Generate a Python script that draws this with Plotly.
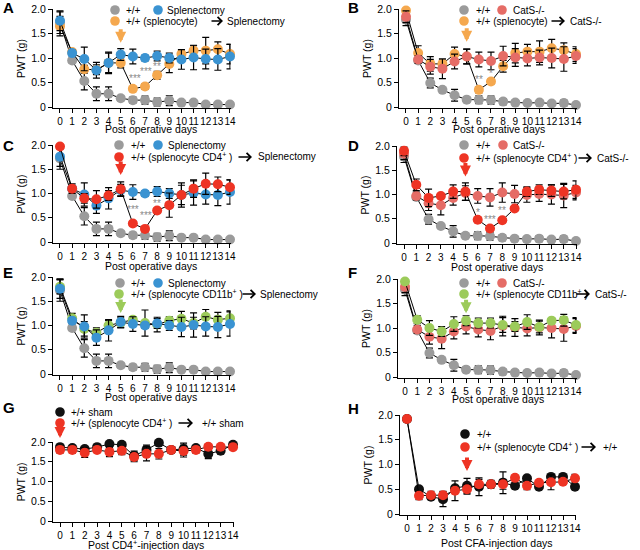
import plotly.graph_objects as go

W, H = 640, 550
days = list(range(15))

# ---------------- data ----------------
# +/+ control for splenectomy panels (A, C, E)
wt_a = [1.72, 0.95, 0.53, 0.27, 0.27, 0.18, 0.14, 0.14, 0.10, 0.13, 0.09, 0.09, 0.05, 0.05, 0.05]
wt_a_err = [0.22, 0.05, 0.18, 0.14, 0.14, 0.05, 0.06, 0.08, 0.08, 0.10, 0.05, 0.05, 0.03, 0.03, 0.03]
splenectomy = [1.76, 1.10, 0.98, 0.75, 0.90, 1.07, 1.03, 1.00, 1.04, 1.00, 0.97, 1.01, 0.98, 0.97, 1.03]
splenectomy_err = [0.20, 0.06, 0.24, 0.16, 0.22, 0.12, 0.15, 0.06, 0.10, 0.10, 0.20, 0.25, 0.20, 0.22, 0.25]
a_spleno = [1.65, 1.12, 0.77, 0.76, 0.90, 0.90, 0.37, 0.42, 0.65, 0.88, 1.08, 1.15, 1.15, 1.18, 1.08]
a_spleno_err = [0.20, 0.05, 0.08, 0.10, 0.20, 0.10, 0.03, 0.06, 0.08, 0.18, 0.08, 0.10, 0.27, 0.15, 0.20]

# +/+ control for CatS-/- panels (B, D, F)
wt_b = [1.78, 0.95, 0.49, 0.35, 0.24, 0.15, 0.15, 0.14, 0.11, 0.09, 0.08, 0.09, 0.07, 0.08, 0.04]
wt_b_err = [0.12, 0.05, 0.10, 0.03, 0.12, 0.05, 0.08, 0.08, 0.06, 0.05, 0.05, 0.06, 0.03, 0.06, 0.02]
cats = [1.84, 0.97, 0.82, 0.78, 0.93, 1.03, 0.97, 0.94, 1.04, 1.01, 0.99, 1.01, 1.00, 0.98, 1.04]
cats_err = [0.12, 0.08, 0.15, 0.20, 0.15, 0.15, 0.15, 0.18, 0.20, 0.18, 0.15, 0.15, 0.20, 0.25, 0.15]
b_spleno = [1.97, 1.10, 0.88, 0.88, 1.08, 1.03, 0.35, 0.52, 0.83, 1.10, 1.13, 1.13, 1.20, 1.16, 1.08]
b_spleno_err = [0.05, 0.15, 0.15, 0.10, 0.14, 0.15, 0.06, 0.05, 0.12, 0.20, 0.15, 0.22, 0.18, 0.15, 0.15]

c_cd4 = [1.97, 1.10, 0.90, 0.88, 0.96, 1.09, 0.38, 0.27, 0.65, 0.76, 0.97, 1.10, 1.20, 1.19, 1.13]
c_cd4_err = [0.05, 0.10, 0.10, 0.18, 0.10, 0.15, 0.05, 0.05, 0.05, 0.25, 0.25, 0.18, 0.22, 0.15, 0.15]
d_cd4 = [1.90, 1.20, 0.93, 0.97, 1.06, 1.06, 0.48, 0.30, 0.47, 0.71, 1.06, 1.10, 1.08, 1.06, 1.10]
d_cd4_err = [0.10, 0.12, 0.18, 0.05, 0.14, 0.18, 0.05, 0.05, 0.05, 0.05, 0.10, 0.10, 0.12, 0.15, 0.18]

e_cd11b = [1.80, 1.15, 0.93, 0.85, 1.00, 1.06, 1.12, 1.05, 1.02, 1.10, 1.14, 1.05, 1.18, 1.12, 1.15]
e_cd11b_err = [0.15, 0.10, 0.15, 0.10, 0.10, 0.10, 0.05, 0.27, 0.15, 0.08, 0.15, 0.12, 0.15, 0.15, 0.15]
f_cd11b = [1.95, 1.17, 1.00, 0.93, 1.08, 1.15, 1.10, 1.10, 1.06, 1.03, 1.12, 1.02, 1.15, 1.16, 1.06]
f_cd11b_err = [0.05, 0.08, 0.15, 0.10, 0.15, 0.10, 0.10, 0.10, 0.15, 0.10, 0.15, 0.12, 0.05, 0.12, 0.15]

g_sham = [1.87, 1.85, 1.82, 1.87, 1.95, 1.93, 1.65, 1.80, 1.98, 1.80, 1.82, 1.85, 1.70, 1.78, 1.93]
g_sham_err = [0.05, 0.03, 0.03, 0.03, 0.03, 0.03, 0.12, 0.12, 0.03, 0.05, 0.15, 0.05, 0.12, 0.08, 0.03]
g_cd4 = [1.80, 1.80, 1.73, 1.80, 1.75, 1.78, 1.62, 1.70, 1.70, 1.80, 1.77, 1.80, 1.88, 1.88, 1.87]
g_cd4_err = [0.08, 0.08, 0.12, 0.05, 0.12, 0.10, 0.12, 0.18, 0.13, 0.08, 0.15, 0.08, 0.06, 0.05, 0.05]

h_wt = [1.92, 0.50, 0.35, 0.30, 0.52, 0.57, 0.55, 0.60, 0.63, 0.57, 0.72, 0.55, 0.75, 0.75, 0.55]
h_wt_err = [0.05, 0.05, 0.05, 0.15, 0.05, 0.15, 0.18, 0.08, 0.22, 0.05, 0.03, 0.03, 0.05, 0.05, 0.05]
h_cd4 = [1.92, 0.37, 0.38, 0.38, 0.47, 0.50, 0.60, 0.60, 0.60, 0.73, 0.57, 0.63, 0.64, 0.65, 0.72]
h_cd4_err = [0.05, 0.08, 0.08, 0.08, 0.20, 0.10, 0.10, 0.05, 0.10, 0.05, 0.08, 0.03, 0.15, 0.05, 0.08]

y_tickvals = [0, 0.5, 1.0, 1.5, 2.0]
y_ticktext = ["0", "0.5", "1.0", "1.5", "2.0"]

# ---------------- styles ----------------
GRAY = "#9b9b9b"
BLUE = "#3a93d2"
ORANGE = "#f5a84e"
SALMON = "#e56c66"
RED = "#ee3424"
GREEN = "#9ccb5a"
BLACK = "#111111"
FONT = "Liberation Sans, Arial, sans-serif"
LEG_SIZE = 10
TICK_SIZE = 10

XR = (-0.58, 14.05)
YR = (-0.02, 2.0)

fig = go.Figure()
layout = dict(width=W, height=H, margin=dict(l=0, r=0, t=0, b=0, autoexpand=False),
              paper_bgcolor="white", plot_bgcolor="white", showlegend=False,
              font=dict(family=FONT, size=10.5, color="black"))
annotations = []
shapes = []


def px_x(p):
    return p / W


def px_y(p):
    return 1 - p / H


def add_text(x, y, text, size=LEG_SIZE, anchor="left", color="black"):
    annotations.append(dict(xref="paper", yref="paper", x=px_x(x), y=px_y(y), text=text,
                            showarrow=False, xanchor=anchor, yanchor="middle",
                            font=dict(size=size, color=color, family=FONT)))


def add_dot(cx, cy, color, r=4.8):
    shapes.append(dict(type="circle", xref="paper", yref="paper",
                       x0=px_x(cx - r), x1=px_x(cx + r), y0=px_y(cy + r), y1=px_y(cy - r),
                       fillcolor=color, line=dict(width=0)))


def add_legend_arrow(x0, x1, y):
    annotations.append(dict(xref="paper", yref="paper", x=px_x(x1), y=px_y(y), ax=-(x1 - x0), ay=0,
                            text="", showarrow=True, arrowhead=4, arrowwidth=1.6, arrowsize=1,
                            arrowcolor="black"))


panels = [
    dict(letter="A", letter_xy=(1, 8), geo=(60, 230, 107, 9),
         series=[(wt_a, wt_a_err, GRAY), (a_spleno, a_spleno_err, ORANGE), (splenectomy, splenectomy_err, BLUE)],
         arrow=(5, 1.31, ORANGE), stars=[(6.2, 0.58, "***"), (7.1, 0.72, "***"), (8.0, 0.83, "**")],
         xtitle=("Post operative days", 151, 129),
         leg=[(10, [("dot", 115, GRAY), ("text", 124, "+/+"), ("dot", 158, BLUE), ("text", 165, "Splenectomy")]),
              (21, [("dot", 115, ORANGE), ("text", 124, "+/+ (splenocyte)"), ("arrow", 210, 223),
                    ("text", 225, "Splenectomy")])]),
    dict(letter="B", letter_xy=(346, 8), geo=(406, 576, 107, 9),
         series=[(wt_b, wt_b_err, GRAY), (b_spleno, b_spleno_err, ORANGE), (cats, cats_err, SALMON)],
         arrow=(5, 1.33, ORANGE), stars=[(6.0, 0.56, "**"), (7.0, 0.68, "*")],
         xtitle=("Post operative days", 499, 129),
         leg=[(10, [("dot", 464, GRAY), ("text", 474, "+/+"), ("dot", 502, SALMON), ("text", 511, "CatS-/-")]),
              (21, [("dot", 464, ORANGE), ("text", 474, "+/+ (splenocyte)"), ("arrow", 550, 565),
                    ("text", 568, "CatS-/-")])]),
    dict(letter="C", letter_xy=(1, 146), geo=(60, 230, 242, 145),
         series=[(wt_a, wt_a_err, GRAY), (splenectomy, splenectomy_err, BLUE), (c_cd4, c_cd4_err, RED)],
         arrow=(5, 1.38, RED), stars=[(6.0, 0.67, "***"), (7.1, 0.55, "***"), (8.0, 0.80, "**")],
         xtitle=("Post operative days", 151, 266),
         leg=[(145, [("dot", 119, GRAY), ("text", 129, "+/+"), ("dot", 158, BLUE), ("text", 166, "Splenectomy")]),
              (157, [("dot", 119, RED), ("text", 129, "+/+ (splenocyte CD4<sup>+</sup> )"), ("arrow", 237, 252),
                     ("text", 256, "Splenectomy")])]),
    dict(letter="D", letter_xy=(346, 146), geo=(404, 576, 243, 146),
         series=[(wt_b, wt_b_err, GRAY), (cats, cats_err, SALMON), (d_cd4, d_cd4_err, RED)],
         arrow=(5, 1.37, RED), stars=[(6.0, 0.63, "*"), (7.0, 0.48, "***"), (8.0, 0.66, "**")],
         xtitle=("Post operative days", 497, 267),
         leg=[(145, [("dot", 464, GRAY), ("text", 474, "+/+"), ("dot", 503, SALMON), ("text", 511, "CatS-/-")]),
              (158, [("dot", 464, RED), ("text", 474, "+/+ (splenocyte CD4<sup>+</sup> )"), ("arrow", 577, 592),
                     ("text", 595, "CatS-/-")])]),
    dict(letter="E", letter_xy=(1, 272), geo=(60, 230, 374, 277),
         series=[(wt_a, wt_a_err, GRAY), (e_cd11b, e_cd11b_err, GREEN), (splenectomy, splenectomy_err, BLUE)],
         arrow=(5, 1.26, GREEN), stars=[],
         xtitle=("Post operative days", 151, 397),
         leg=[(283, [("dot", 120, GRAY), ("text", 129, "+/+"), ("dot", 158, BLUE), ("text", 166, "Splenectomy")]),
              (294, [("dot", 119, GREEN), ("text", 129, "+/+ (splenocyte CD11b<sup>+</sup> )"), ("arrow", 241, 256),
                     ("text", 258, "Splenectomy")])]),
    dict(letter="F", letter_xy=(346, 272), geo=(405, 576, 377, 279),
         series=[(wt_b, wt_b_err, GRAY), (cats, cats_err, SALMON), (f_cd11b, f_cd11b_err, GREEN)],
         arrow=(5, 1.30, GREEN), stars=[],
         xtitle=("Post operative days", 498, 399),
         leg=[(283, [("dot", 464, GRAY), ("text", 474, "+/+"), ("dot", 502, SALMON), ("text", 511, "CatS-/-")]),
              (294, [("dot", 464, GREEN), ("text", 474, "+/+ (splenocyte CD11b<sup>+</sup> )"), ("arrow", 575, 590),
                     ("text", 593, "CatS-/-")])]),
    dict(letter="G", letter_xy=(1, 407), geo=(60, 233, 521, 442),
         series=[(g_sham, g_sham_err, BLACK), (g_cd4, g_cd4_err, RED)],
         arrow=None, paper_arrow=(60, 438, RED), stars=[],
         xtitle=("Post CD4<sup>+</sup>-injection days", 146, 544),
         leg=[(412, [("dot", 60, BLACK), ("text", 69, "+/+ sham")]),
              (423, [("dot", 60, RED), ("text", 69, "+/+ (splenocyte CD4<sup>+</sup> )"), ("arrow", 177, 193),
                     ("text", 200, "+/+ sham")])]),
    dict(letter="H", letter_xy=(346, 408), geo=(407, 575, 514, 415),
         series=[(h_wt, h_wt_err, BLACK), (h_cd4, h_cd4_err, RED)],
         arrow=(5, 0.87, RED), stars=[],
         xtitle=("Post CFA-injection days", 496, 543),
         leg=[(434, [("dot", 465, BLACK), ("text", 475, "+/+")]),
              (447, [("dot", 465, RED), ("text", 475, "+/+ (splenocyte CD4<sup>+</sup> )"), ("arrow", 580, 596),
                     ("text", 601, "+/+")])]),
]

DOWN = dict(text="", showarrow=True, arrowhead=2, arrowwidth=4, arrowsize=0.55, ax=0, ay=-15)

for i, p in enumerate(panels, start=1):
    s = "" if i == 1 else str(i)
    x0, x14, y0, y2 = p["geo"]
    ppd = (x14 - x0) / 14.0
    ppu = (y0 - y2) / 2.0
    left = x0 + XR[0] * ppd
    right = x0 + XR[1] * ppd
    bottom = y0 - YR[0] * ppu
    top = y0 - YR[1] * ppu
    xa = dict(domain=[px_x(left), px_x(right)], range=list(XR), anchor="y" + s, automargin=False,
              showgrid=False, zeroline=False, showline=True, linecolor="black", linewidth=1,
              ticks="outside", ticklen=4, tickwidth=1, tickcolor="black", tickangle=0,
              tickmode="array", tickvals=days, ticktext=[str(d) for d in days],
              tickfont=dict(size=TICK_SIZE, family=FONT))
    ya = dict(domain=[px_y(bottom), px_y(top)], range=list(YR), anchor="x" + s, automargin=False,
              showgrid=False, zeroline=False, showline=True, linecolor="black", linewidth=1,
              ticks="outside", ticklen=4, tickwidth=1, tickcolor="black",
              tickmode="array", tickvals=y_tickvals, ticktext=y_ticktext,
              tickfont=dict(size=10.5, family=FONT),
              title=dict(text="PWT (g)", font=dict(size=10.5, family=FONT), standoff=3))
    layout["xaxis" + s] = xa
    layout["yaxis" + s] = ya

    for vals, err, col in p["series"]:
        fig.add_trace(go.Scatter(
            x=days, y=vals, mode="lines+markers", xaxis="x" + s, yaxis="y" + s,
            line=dict(color="black", width=1),
            marker=dict(color=col, size=10, line=dict(width=0)),
            error_y=dict(type="data", array=err, color="black", thickness=1.2, width=3.5),
            cliponaxis=False, showlegend=False, hoverinfo="skip"))

    if p.get("arrow"):
        ax_, ay_, acol = p["arrow"]
        annotations.append(dict(xref="x" + s, yref="y" + s, x=ax_, y=ay_, arrowcolor=acol, **DOWN))
    if p.get("paper_arrow"):
        px_, py_, acol = p["paper_arrow"]
        annotations.append(dict(xref="paper", yref="paper", x=px_x(px_), y=px_y(py_), arrowcolor=acol, **DOWN))
    for sx, sy, st in p["stars"]:
        annotations.append(dict(xref="x" + s, yref="y" + s, x=sx, y=sy, text=st, showarrow=False,
                                font=dict(size=10, color="#8a8a8a", family=FONT)))

    xt, xtx, xty = p["xtitle"]
    add_text(xtx, xty, xt, size=10.5, anchor="center")

    lx, ly = p["letter_xy"]
    annotations.append(dict(xref="paper", yref="paper", x=px_x(lx), y=px_y(ly), text="<b>" + p["letter"] + "</b>",
                            showarrow=False, xanchor="left", yanchor="middle",
                            font=dict(size=15, color="black", family=FONT)))

    for ry, items in p["leg"]:
        for it in items:
            if it[0] == "dot":
                add_dot(it[1], ry, it[2])
            elif it[0] == "text":
                add_text(it[1], ry, it[2])
            else:
                add_legend_arrow(it[1], it[2], ry)

layout["annotations"] = annotations
layout["shapes"] = shapes
fig.update_layout(**layout)
fig.write_html("out.html", config={"displayModeBar": False},
               post_script="document.body.style.margin='0';document.body.style.overflow='hidden';")
